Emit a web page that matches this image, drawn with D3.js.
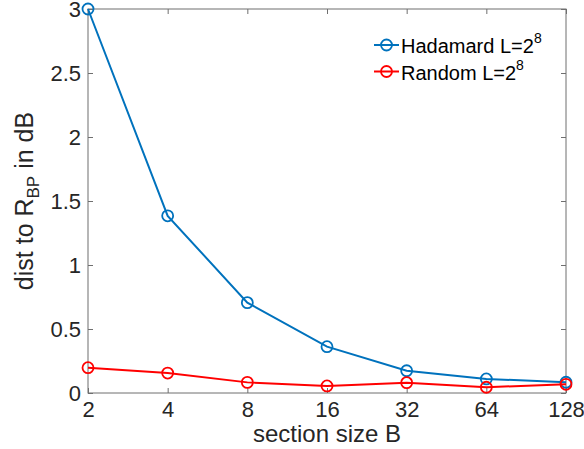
<!DOCTYPE html>
<html>
<head>
<meta charset="utf-8">
<script src="https://cdn.jsdelivr.net/npm/d3@7"></script>
<style>
  html, body { margin: 0; padding: 0; background: #fff; }
  svg { display: block; font-family: "Liberation Sans", Arial, Helvetica, sans-serif; }
</style>
</head>
<body>
<svg id="chart" width="584" height="449"></svg>
<script>
// Section sizes (log2 axis) and distance to R_BP in dB
const sectionSizes = [2, 4, 8, 16, 32, 64, 128];
const hadamard = [3.0, 1.384, 0.706, 0.362, 0.174, 0.11, 0.084];
const random = [0.198, 0.156, 0.083, 0.055, 0.081, 0.045, 0.068];
const yTicks = [0, 0.5, 1, 1.5, 2, 2.5, 3];
const yTickLabels = ["0", "0.5", "1", "1.5", "2", "2.5", "3"];

const series = [
  { name: "Hadamard", values: hadamard, color: "#0072BD" },
  { name: "Random", values: random, color: "#FF0000" }
];

const svg = d3.select("#chart");
const plotLeft = 88, plotRight = 566, plotTop = 9, plotBottom = 393;

const x = d3.scaleLog().base(2).domain([2, 128]).range([plotLeft, plotRight]);
const y = d3.scaleLinear().domain([0, 3]).range([plotBottom, plotTop]);

const axisColor = "#6f6f6f";
const textColor = "#262626";
const fontFamily = "'Liberation Sans', Arial, sans-serif";

// Plot box
svg.append("rect")
  .attr("x", plotLeft).attr("y", plotTop)
  .attr("width", plotRight - plotLeft).attr("height", plotBottom - plotTop)
  .attr("fill", "none").attr("stroke", axisColor).attr("stroke-width", 1);

// Bottom axis with inward ticks
const xAxis = svg.append("g").attr("transform", `translate(0,${plotBottom})`)
  .call(d3.axisBottom(x).tickValues(sectionSizes).tickFormat(d3.format("d"))
    .tickSizeInner(-5).tickSizeOuter(0).tickPadding(8));
xAxis.select(".domain").remove();
xAxis.selectAll("line").attr("stroke", axisColor);
xAxis.selectAll("text").attr("fill", textColor).style("font-size", "22px")
  .style("font-family", fontFamily);

// Top ticks
const xTop = svg.append("g").attr("transform", `translate(0,${plotTop})`)
  .call(d3.axisTop(x).tickValues(sectionSizes).tickFormat("").tickSizeInner(-5).tickSizeOuter(0));
xTop.select(".domain").remove();
xTop.selectAll("line").attr("stroke", axisColor);

// Left axis
const yAxis = svg.append("g").attr("transform", `translate(${plotLeft},0)`)
  .call(d3.axisLeft(y).tickValues(yTicks).tickFormat((d, i) => yTickLabels[i])
    .tickSizeInner(-5).tickSizeOuter(0).tickPadding(7));
yAxis.select(".domain").remove();
yAxis.selectAll("line").attr("stroke", axisColor);
yAxis.selectAll("text").attr("fill", textColor).style("font-size", "22px")
  .style("font-family", fontFamily);

// Right ticks
const yRight = svg.append("g").attr("transform", `translate(${plotRight},0)`)
  .call(d3.axisRight(y).tickValues(yTicks).tickFormat("").tickSizeInner(-5).tickSizeOuter(0));
yRight.select(".domain").remove();
yRight.selectAll("line").attr("stroke", axisColor);

// Axis titles
svg.append("text")
  .attr("x", (plotLeft + plotRight) / 2).attr("y", 442)
  .attr("text-anchor", "middle").attr("fill", textColor)
  .style("font-size", "24px")
  .text("section size B");

const yLabel = svg.append("text")
  .attr("transform", `translate(33,${(plotTop + plotBottom) / 2}) rotate(-90)`)
  .attr("text-anchor", "middle").attr("fill", textColor)
  .style("font-size", "25px");
yLabel.append("tspan").text("dist to R");
yLabel.append("tspan").attr("dy", 6).style("font-size", "17px").text("BP");
yLabel.append("tspan").attr("dy", -6).text(" in dB");

// Lines and markers
const line = d3.line().x((d, i) => x(sectionSizes[i])).y(d => y(d));
series.forEach(s => {
  svg.append("path").datum(s.values)
    .attr("d", line).attr("fill", "none")
    .attr("stroke", s.color).attr("stroke-width", 2);
  svg.append("g").selectAll("circle").data(s.values).join("circle")
    .attr("cx", (d, i) => x(sectionSizes[i])).attr("cy", d => y(d))
    .attr("r", 5.5).attr("fill", "none")
    .attr("stroke", s.color).attr("stroke-width", 1.8);
});

// Legend
const legend = svg.append("g");
series.forEach((s, i) => {
  const ly = 45 + i * 26.5;
  legend.append("line").attr("x1", 374).attr("x2", 399).attr("y1", ly).attr("y2", ly)
    .attr("stroke", s.color).attr("stroke-width", 2);
  legend.append("circle").attr("cx", 386.5).attr("cy", ly).attr("r", 5.5)
    .attr("fill", "none").attr("stroke", s.color).attr("stroke-width", 1.8);
  const t = legend.append("text").attr("x", 401).attr("y", ly + 8)
    .attr("fill", "#000").style("font-size", "20px");
  t.append("tspan").text(s.name + " L=2");
  t.append("tspan").attr("dy", -10).style("font-size", "14px").text("8");
});
</script>
</body>
</html>
